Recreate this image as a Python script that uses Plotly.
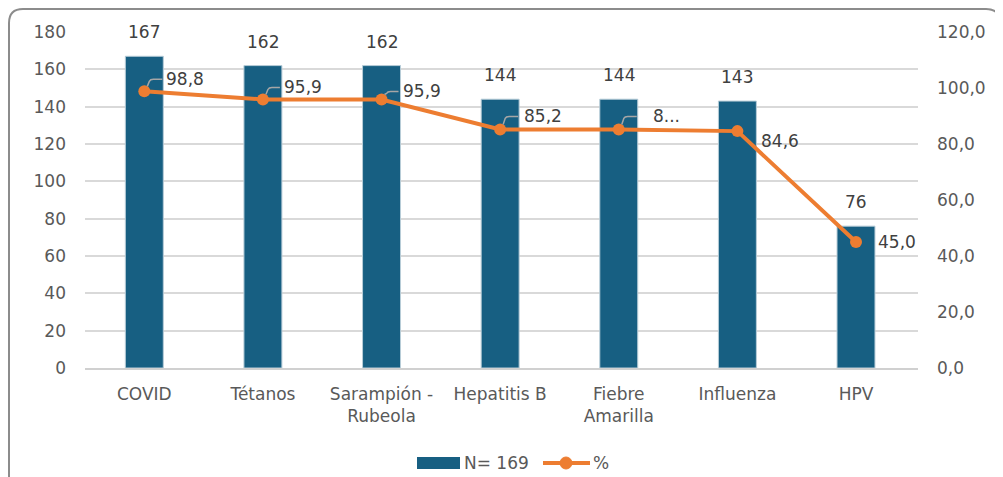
import plotly.graph_objects as go

categories = ["COVID", "Tétanos", "Sarampión -<br>Rubeola", "Hepatitis B", "Fiebre<br>Amarilla", "Influenza", "HPV"]
counts = [167, 162, 162, 144, 144, 143, 76]
percents = [98.8, 95.9, 95.9, 85.2, 85.2, 84.6, 45.0]
pct_labels = ["98,8", "95,9", "95,9", "85,2", "8...", "84,6", "45,0"]
left_ticks = [0, 20, 40, 60, 80, 100, 120, 140, 160, 180]
right_ticks = [0, 20, 40, 60, 80, 100, 120]
series_names = ["N= 169", "%"]

BAR = "#175f82"
LINE = "#ed7d31"
TXT = "#595959"
LBL = "#404040"
FONT = "DejaVu Sans"
FS = 17

W, H = 995, 469
L, T, PW, PH = 77, 24, 833, 336


def px(fx):
    return (fx - L) / PW


def py(fy):
    return (T + PH - fy) / PH


fig = go.Figure()
fig.add_trace(go.Bar(x=categories, y=counts, name=series_names[0], marker_color=BAR,
                     marker_line=dict(color="#b8cdd8", width=1), width=0.32))
fig.add_trace(go.Scatter(x=categories, y=percents, name=series_names[1], yaxis="y2",
                         mode="lines+markers", line=dict(color=LINE, width=4),
                         marker=dict(color=LINE, size=12)))

ann = []
for c, v in zip(categories, counts):
    ann.append(dict(x=c, y=v, xref="x", yref="y", text=str(v), showarrow=False,
                    yanchor="bottom", yshift=12, font=dict(size=FS, color=LBL, family=FONT)))

# label offsets (pixels) for line labels
offs = [(20, 12), (19, 12), (19, 8), (22, 13), (32, 13), (22, -10), (20, 0)]
hooks = [True, True, True, True, True, False, False]
shapes = []
for c, v, t, (dx, dy), h in zip(categories, percents, pct_labels, offs, hooks):
    ann.append(dict(x=c, y=v, xref="x", yref="y2", text=t, showarrow=False,
                    xanchor="left", yanchor="middle", xshift=dx, yshift=dy,
                    font=dict(size=FS, color=LBL, family=FONT)))
    if h:
        shapes.append(dict(type="path", xref="x", yref="y2", xsizemode="pixel", ysizemode="pixel",
                           xanchor=c, yanchor=v,
                           path=f"M 3 5 L 5 {dy - 2} Q 6 {dy} 9 {dy} L {min(dx - 2, 18)} {dy}",
                           line=dict(color="#a6a6a6", width=1.5)))

# outer rounded border
x0, x1 = px(1), px(992)
y0, y1 = py(520), py(1)
r_x, r_y = 14 / PW, 14 / PH
shapes.append(dict(type="path", xref="paper", yref="paper", layer="below",
                   path=(f"M {x0} {y0} L {x0} {y1 - r_y} Q {x0} {y1} {x0 + r_x} {y1} "
                         f"L {x1 - r_x} {y1} Q {x1} {y1} {x1} {y1 - r_y} L {x1} {y0}"),
                   line=dict(color="#8c8c8c", width=2)))

# custom legend
ly = 455
shapes.append(dict(type="rect", xref="paper", yref="paper", x0=px(409), x1=px(452),
                   y0=py(ly - 6), y1=py(ly + 6), fillcolor=BAR, line=dict(width=0)))
shapes.append(dict(type="line", xref="paper", yref="paper", x0=px(535), x1=px(582),
                   y0=py(ly), y1=py(ly), line=dict(color=LINE, width=4)))
shapes.append(dict(type="circle", xref="paper", yref="paper", x0=px(552), x1=px(564),
                   y0=py(ly - 6), y1=py(ly + 6), fillcolor=LINE, line=dict(color=LINE, width=1)))
ann.append(dict(x=px(454), y=py(ly), xref="paper", yref="paper", text=series_names[0],
                showarrow=False, xanchor="left", yanchor="middle",
                font=dict(size=FS, color=TXT, family=FONT)))
ann.append(dict(x=px(583), y=py(ly), xref="paper", yref="paper", text=series_names[1],
                showarrow=False, xanchor="left", yanchor="middle",
                font=dict(size=FS, color=TXT, family=FONT)))

fig.update_layout(
    width=W, height=H,
    margin=dict(l=L, r=W - L - PW, t=T, b=H - T - PH, autoexpand=False),
    paper_bgcolor="white", plot_bgcolor="white",
    separators=",.",
    font=dict(family=FONT, size=FS, color=TXT),
    bargap=0.68,
    showlegend=False,
    xaxis=dict(showline=True, linecolor="#d0d0d0", linewidth=1.5, ticks="", automargin=False,
               tickfont=dict(size=FS, color=TXT), ticklabelstandoff=10),
    yaxis=dict(range=[0, 180], tickvals=left_ticks, showgrid=True, gridcolor="#d9d9d9",
               gridwidth=1.5, zeroline=False, tickfont=dict(size=FS, color=TXT),
               ticklabelstandoff=18, automargin=False),
    yaxis2=dict(range=[0, 120], tickvals=right_ticks, tickformat=".1f", overlaying="y",
                side="right", showgrid=False, zeroline=False, automargin=False,
                tickfont=dict(size=FS, color=TXT), ticklabelstandoff=18),
    annotations=ann,
    shapes=shapes,
)

fig.write_html("out.html")
